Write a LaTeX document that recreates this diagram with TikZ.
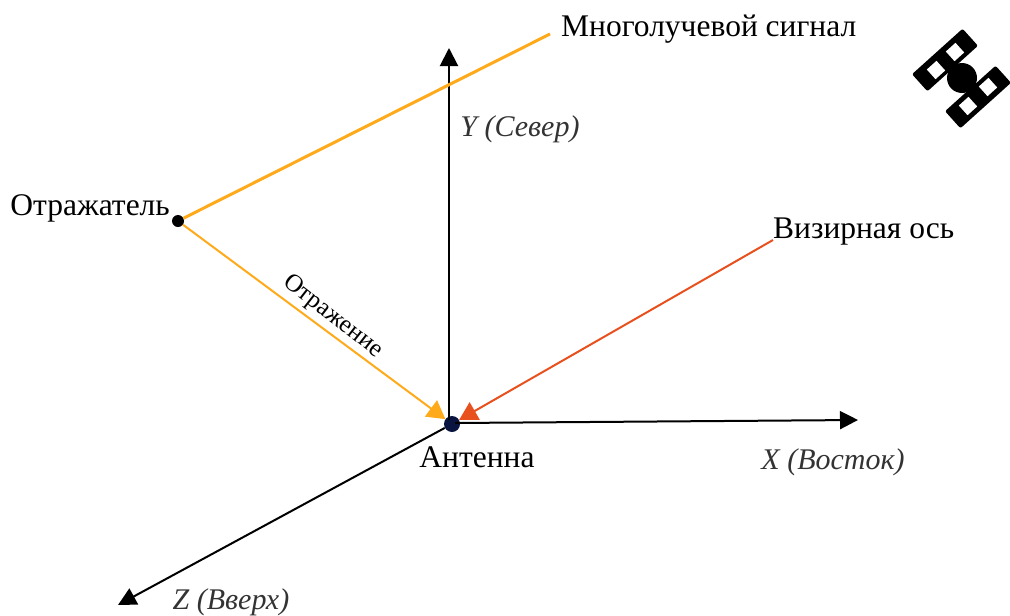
\documentclass[tikz,border=0pt]{standalone}
\usepackage{fontspec}
\setmainfont{Liberation Serif}
\usetikzlibrary{arrows.meta}
\definecolor{rayorange}{HTML}{FFAA1A}
\definecolor{sightred}{HTML}{E8501E}
\definecolor{antennablue}{HTML}{0A1440}
\definecolor{axisgray}{HTML}{333333}
\begin{document}
\begin{tikzpicture}[
x=1pt,
y=-1pt,
label/.style={
inner sep=0pt,
font=\fontsize{31.5}{34}\selectfont
},
axislabel/.style={
inner sep=0pt,
text=axisgray,
font=\fontsize{30}{33}\selectfont\itshape
},
axis/.style={
-{Triangle[length=18pt,width=18pt]},
black,
line width=2pt
},
ray/.style={
line width=2pt
},
panel/.style={
fill=black,
rounded corners=2pt,
rotate=42,
minimum width=68pt,
minimum height=23pt,
inner sep=0pt
},
cell/.style={
fill=white,
rotate=42,
minimum width=13pt,
minimum height=13pt,
inner sep=0pt
}
]
\useasboundingbox (0,0) rectangle (1010,616);

\node (antenna) [circle,fill=antennablue,minimum size=16pt,inner sep=0pt] at (452,424) {};
\node (reflector) [circle,fill=black,minimum size=12pt,inner sep=0pt] at (178,221) {};

\coordinate (yend) at (449,48);
\coordinate (xend) at (858,420);
\coordinate (zend) at (118,605);
\coordinate (multiend) at (550,34);
\coordinate (sightend) at (773,240);

\draw[axis] (449,420) -- (yend);
\draw[axis] (455,423) -- (xend);
\draw[axis] (antenna) -- (zend);

\draw[ray,rayorange,line width=3pt] (reflector) -- (multiend);
\draw[ray,rayorange,-{Triangle[length=18pt,width=20pt]}] (reflector) -- (antenna);
\draw[ray,sightred,-{Triangle[length=18pt,width=20pt]}] (sightend) -- (antenna);

\node (multilabel) [label,anchor=west] at (561,29) {Многолучевой сигнал};
\node (sightlabel) [label,anchor=west] at (773,232) {Визирная ось};
\node (reflectorlabel) [label,anchor=east] at (170,208) {Отражатель};
\node (reflectionlabel) [label,rotate=-38,font=\fontsize{25}{27}\selectfont] at (333,317) {Отражение};
\node (antennalabel) [label] at (477,457) {Антенна};
\node (ylabel) [axislabel] at (520,129) {Y (Север)};
\node (xlabel) [axislabel] at (833,462) {X (Восток)};
\node (zlabel) [axislabel] at (231,602) {Z (Вверх)};

% satellite
\node (panela) [panel] at (945,60) {};
\node (panelb) [panel] at (978,97) {};
\node (body) [circle,fill=black,minimum size=30pt,inner sep=0pt] at (962,78) {};
\node (cella) [cell] at (936,70) {};
\node (cellb) [cell] at (955,52) {};
\node (cellc) [cell] at (968,106) {};
\node (celld) [cell] at (988,87) {};

\end{tikzpicture}
\end{document}
